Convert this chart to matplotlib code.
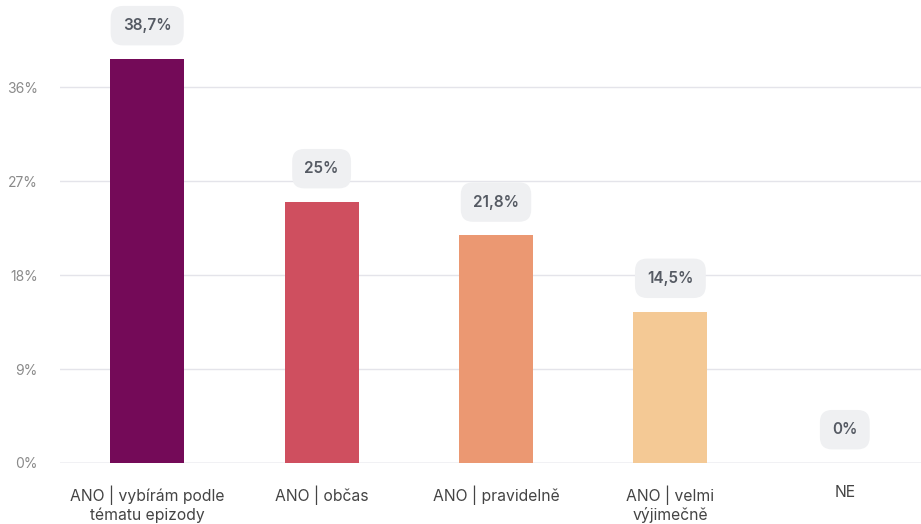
import matplotlib.pyplot as plt

plt.rcParams['font.family'] = ['Inter', 'DejaVu Sans']

categories = ['ANO | vybírám podle\ntématu epizody', 'ANO | občas', 'ANO | pravidelně',
              'ANO | velmi\nvýjimečně', 'NE']
values = [38.7, 25, 21.8, 14.5, 0]
value_labels = ['38,7%', '25%', '21,8%', '14,5%', '0%']
colors = ['#740a58', '#cf4f5f', '#eb9872', '#f4c995', '#cccccc']
yticks = [0, 9, 18, 27, 36]
ytick_labels = ['0%', '9%', '18%', '27%', '36%']

W, H = 921, 524
fig = plt.figure(figsize=(W / 100, H / 100), dpi=100)
ax = fig.add_axes([60 / W, 61 / H, 872 / W, 463 / H])

x = range(len(categories))
ax.bar(x, values, width=0.425, color=colors, zorder=3)

# value badges above the bars
for i, (v, lab) in enumerate(zip(values, value_labels)):
    ax.annotate(lab, (i, v), xytext=(0, 24), textcoords='offset points',
                ha='center', va='center', fontsize=11, fontweight='semibold',
                color='#555a63', zorder=4,
                bbox=dict(boxstyle='round,pad=0.8,rounding_size=0.8',
                          fc='#eff0f2', ec='none'))

ax.set_xlim(-0.5, len(categories) - 0.5)
ax.set_ylim(0, 44.35)
ax.set_yticks(yticks)
ax.set_yticklabels(ytick_labels)
ax.set_xticks(list(x))
ax.set_xticklabels(categories, linespacing=1.2)

ax.grid(axis='y', color='#e4e4ea', linewidth=1, zorder=0)
ax.axhline(0, color='#d3d3dc', linewidth=1, zorder=2)
for s in ax.spines.values():
    s.set_visible(False)
ax.tick_params(axis='both', length=0)
ax.tick_params(axis='y', labelsize=10, labelcolor='#8a8a8a', pad=16)
ax.tick_params(axis='x', labelsize=11.3, labelcolor='#444444', pad=16)

fig.savefig('out.png', dpi=100)
